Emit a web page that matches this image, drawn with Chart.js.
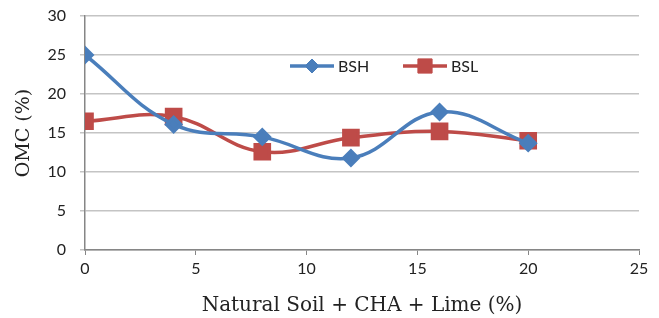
<!DOCTYPE html>
<html>
<head>
<meta charset="utf-8">
<script src="https://cdn.jsdelivr.net/npm/chart.js@4.4.1/dist/chart.umd.min.js"></script>
<style>
  html, body { margin: 0; padding: 0; background: #fff; }
  #wrap { width: 659px; height: 318px; position: relative; }
</style>
</head>
<body>
<div id="wrap"><canvas id="chart"></canvas></div>
<script>
// data
const mixPercent = [0, 4, 8, 12, 16, 20];
const bshValues = [25, 16.1, 14.5, 11.8, 17.7, 13.7];
const bslValues = [16.5, 17.1, 12.6, 14.4, 15.2, 14.0];
const seriesNames = ['BSH', 'BSL'];

const BLUE = '#4a7ebb';
const RED = '#be4b48';
const tickFont = { family: 'Lato', size: 16 };

// legend drawn inside the plot, Excel style (line + marker)
const insideLegend = {
  id: 'insideLegend',
  afterDraw(chart) {
    const ctx = chart.ctx;
    const y = 66;
    const items = [
      { x: 290, color: BLUE, style: 'rectRot', r: 7, label: seriesNames[0] },
      { x: 403, color: RED, style: 'rect', r: 10, label: seriesNames[1] },
    ];
    ctx.save();
    items.forEach((it) => {
      ctx.strokeStyle = it.color;
      ctx.lineWidth = 3.5;
      ctx.beginPath();
      ctx.moveTo(it.x, y);
      ctx.lineTo(it.x + 44, y);
      ctx.stroke();
      ctx.fillStyle = it.color;
      ctx.lineWidth = 1;
      Chart.helpers.drawPoint(ctx, { pointStyle: it.style, radius: it.r, borderWidth: 1 }, it.x + 22, y);
      ctx.fill();
      ctx.fillStyle = '#222';
      ctx.font = '16px Lato';
      ctx.textBaseline = 'middle';
      ctx.fillText(it.label, it.x + 48, y + 1);
    });
    ctx.restore();
  },
};

new Chart(document.getElementById('chart'), {
  type: 'line',
  data: {
    datasets: [
      {
        label: seriesNames[0],
        data: mixPercent.map((x, i) => ({ x, y: bshValues[i] })),
        borderColor: BLUE,
        backgroundColor: BLUE,
        borderWidth: 3.5,
        pointStyle: 'rectRot',
        pointRadius: 7,
        tension: 0.4,
      },
      {
        label: seriesNames[1],
        data: mixPercent.map((x, i) => ({ x, y: bslValues[i] })),
        borderColor: RED,
        backgroundColor: RED,
        borderWidth: 3.5,
        pointStyle: 'rect',
        pointRadius: 10,
        tension: 0.4,
      },
    ],
  },
  options: {
    responsive: true,
    maintainAspectRatio: false,
    animation: false,
    layout: { padding: { top: 16, right: 20, left: 0, bottom: 0 } },
    plugins: {
      legend: { display: false },
      tooltip: { enabled: false },
    },
    scales: {
      x: {
        type: 'linear',
        min: 0,
        max: 25,
        ticks: { stepSize: 5, color: '#222', font: tickFont, padding: 4 },
        grid: { drawOnChartArea: false, drawTicks: true, tickLength: 5, color: '#868686' },
        border: { color: '#868686', width: 1.5 },
        title: {
          display: true,
          text: 'Natural Soil + CHA + Lime (%)',
          color: '#222',
          font: { family: 'DejaVu Serif', size: 20 },
          padding: { top: 4, bottom: 0 },
        },
        afterFit(scale) { scale.height = 68; },
      },
      y: {
        min: 0,
        max: 30,
        ticks: { stepSize: 5, color: '#222', font: tickFont, padding: 14 },
        grid: { color: '#c4c4c4', lineWidth: 1.5, tickLength: 5 },
        border: { color: '#868686', width: 1.5 },
        title: {
          display: true,
          text: 'OMC (%)',
          color: '#222',
          font: { family: 'DejaVu Serif', size: 19 },
          padding: { top: 13, bottom: 0 },
        },
        afterFit(scale) {
          scale.width = 85;
          scale.paddingTop = 0;
          scale.paddingBottom = 0;
        },
      },
    },
  },
  plugins: [insideLegend],
});
</script>
</body>
</html>
